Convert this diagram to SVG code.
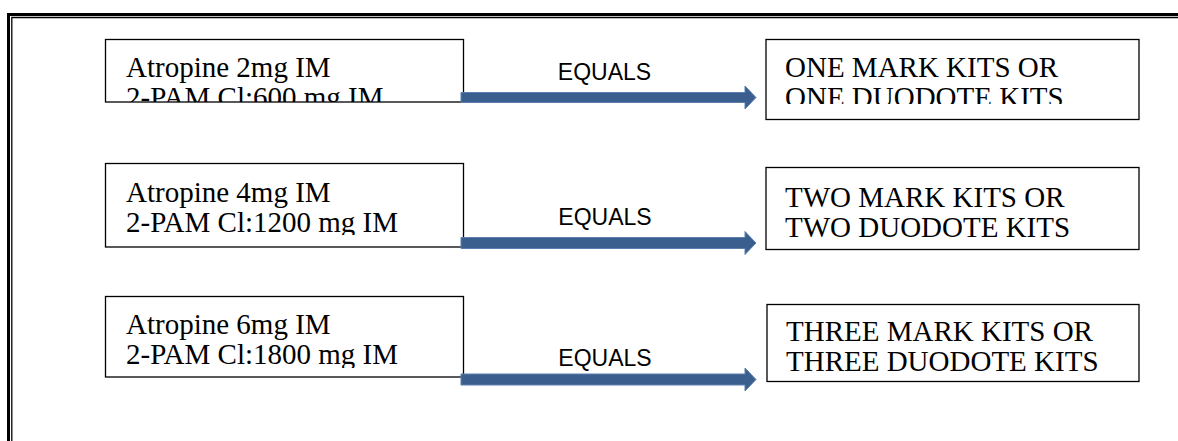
<svg xmlns="http://www.w3.org/2000/svg" width="1178" height="441" viewBox="0 0 1178 441">
<style>
.box{fill:#fff;stroke:#000;stroke-width:1.3}
.t{font-family:"Liberation Serif","Times New Roman",serif;font-size:29px;fill:#000}
.eq{font-family:"Liberation Sans",Arial,sans-serif;font-size:23px;fill:#000;text-anchor:middle}
.arrow{fill:#3a5f8f;stroke:#5b7fae;stroke-width:1}
.frame{fill:none;stroke:#000}
</style>
<defs>
<clipPath id="c1"><rect x="105" y="39" width="359" height="63"/></clipPath>
<clipPath id="c2"><rect x="105" y="163" width="359" height="72"/></clipPath>
<clipPath id="c3"><rect x="105" y="296" width="359" height="72"/></clipPath>
<clipPath id="c4"><rect x="766" y="39" width="373" height="65"/></clipPath>
</defs>
<g id="frame">
<path class="frame" d="M8.5,441 V14.5 H1178" stroke-width="3"/>
<path class="frame" d="M11.8,441 V17.5 H1178" stroke-width="1.3"/>
</g>
<g id="node-left1">
<rect class="box" x="105.5" y="39.5" width="358" height="62.5"/>
<g clip-path="url(#c1)">
<text class="t" x="126" y="77">Atropine 2mg IM</text>
<text class="t" x="126" y="107">2-PAM Cl:600 mg IM</text>
</g>
</g>
<g id="node-right1">
<rect class="box" x="766" y="39.5" width="373" height="80"/>
<g clip-path="url(#c4)">
<text class="t" x="785" y="77">ONE MARK KITS OR</text>
<text class="t" x="785" y="107">ONE DUODOTE KITS</text>
</g>
</g>
<g id="node-left2">
<rect class="box" x="105.5" y="163.5" width="358" height="83.5"/>
<g clip-path="url(#c2)">
<text class="t" x="126" y="201.5">Atropine 4mg IM</text>
<text class="t" x="126" y="231.5">2-PAM Cl:1200 mg IM</text>
</g>
</g>
<g id="node-right2">
<rect class="box" x="766" y="167.5" width="373" height="82"/>
<text class="t" x="785" y="206.5">TWO MARK KITS OR</text>
<text class="t" x="785" y="236.5">TWO DUODOTE KITS</text>
</g>
<g id="node-left3">
<rect class="box" x="105.5" y="296.5" width="358" height="80.5"/>
<g clip-path="url(#c3)">
<text class="t" x="126" y="334">Atropine 6mg IM</text>
<text class="t" x="126" y="364">2-PAM Cl:1800 mg IM</text>
</g>
</g>
<g id="node-right3">
<rect class="box" x="767" y="304.5" width="372" height="77"/>
<text class="t" x="786" y="341">THREE MARK KITS OR</text>
<text class="t" x="786" y="371">THREE DUODOTE KITS</text>
</g>
<g id="connectors">
<path class="arrow" d="M461,92.5 H745 V86 L756,97.5 L745,109 V102.5 H461 Z"/>
<path class="arrow" d="M461,237.5 H745 V231.5 L756,243 L745,254.5 V248.5 H461 Z"/>
<path class="arrow" d="M461,374 H745 V368 L756,379.5 L745,391 V385 H461 Z"/>
<text class="eq" x="604.5" y="80">EQUALS</text>
<text class="eq" x="605" y="225">EQUALS</text>
<text class="eq" x="605" y="366">EQUALS</text>
</g>
</svg>
